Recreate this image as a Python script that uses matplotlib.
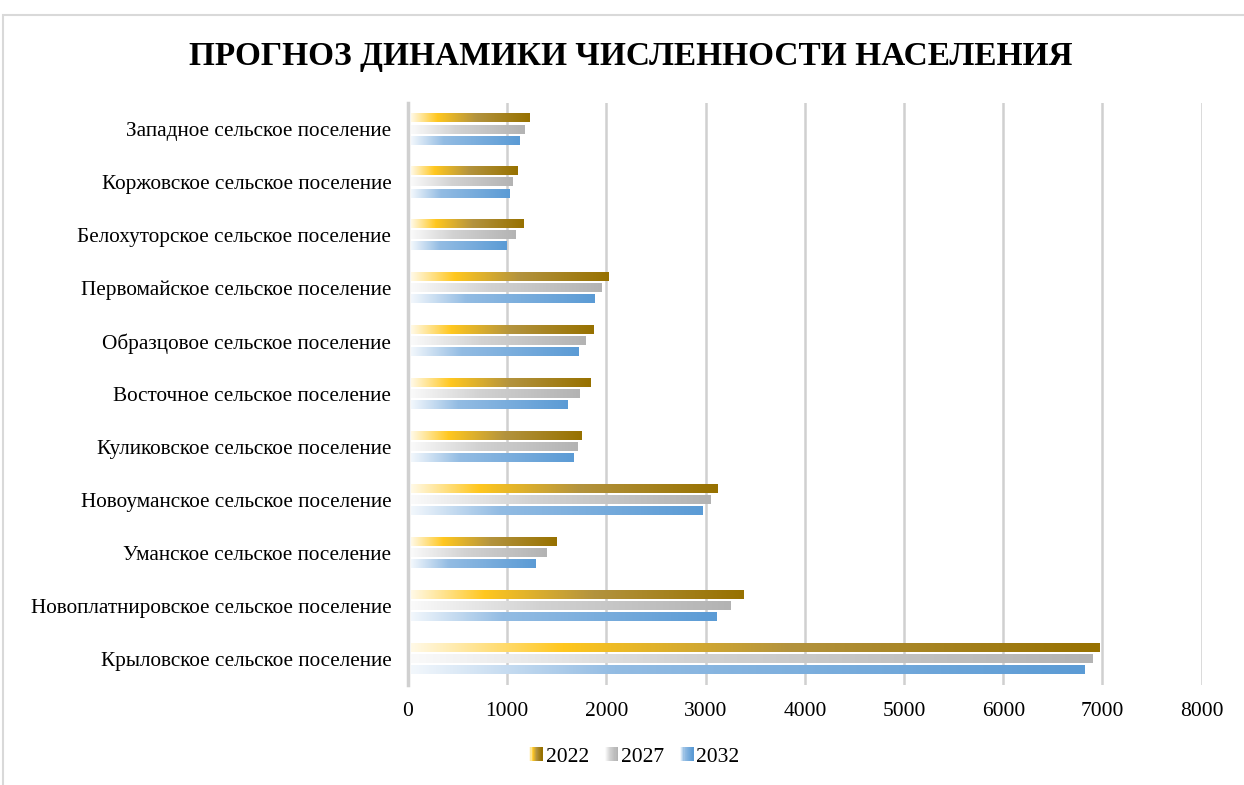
import matplotlib.pyplot as plt
import numpy as np
from matplotlib.colors import LinearSegmentedColormap
from matplotlib.legend_handler import HandlerBase
from matplotlib.patches import Rectangle

plt.rcParams['font.family'] = ['Liberation Serif', 'DejaVu Serif']

# Поселения (снизу вверх, как на оси)
poseleniya = [
    'Крыловское сельское поселение',
    'Новоплатнировское сельское поселение',
    'Уманское сельское поселение',
    'Новоуманское сельское поселение',
    'Куликовское сельское поселение',
    'Восточное сельское поселение',
    'Образцовое сельское поселение',
    'Первомайское сельское поселение',
    'Белохуторское сельское поселение',
    'Коржовское сельское поселение',
    'Западное сельское поселение',
]
god_2022 = [6965, 3380, 1495, 3110, 1745, 1835, 1865, 2020, 1155, 1095, 1215]
god_2027 = [6890, 3245, 1390, 3045, 1705, 1725, 1785, 1950, 1075, 1050, 1165]
god_2032 = [6810, 3105, 1280, 2960, 1665, 1605, 1710, 1870, 985, 1015, 1115]
gody = ['2022', '2027', '2032']
ticks_x = [0, 1000, 2000, 3000, 4000, 5000, 6000, 7000, 8000]

cmaps = [
    LinearSegmentedColormap.from_list('g22', [(0, '#FFF9E6'), (0.22, '#FFC71F'), (0.55, '#B3933E'), (1, '#977100')]),
    LinearSegmentedColormap.from_list('g27', [(0, '#FAFAFA'), (0.4, '#D2D2D2'), (1, '#B3B3B3')]),
    LinearSegmentedColormap.from_list('g32', [(0, '#F2F7FC'), (0.3, '#93BCE3'), (1, '#5B9BD5')]),
]

fig = plt.figure(figsize=(12.44, 7.85), dpi=100)
ax = fig.add_axes([0.328, 0.1274, 0.638, 0.7414])

# рамка вокруг диаграммы
fig.patches.append(Rectangle((3 / 1244, -0.1), 1.2, 1 - 15 / 785 + 0.1, transform=fig.transFigure,
                             fill=False, edgecolor='#D9D9D9', linewidth=1.5))

y = np.arange(len(poseleniya))
shag = 0.21
h = 0.155
grad = np.linspace(0, 1, 256).reshape(1, -1)
for i, (vals, cm) in enumerate(zip([god_2022, god_2027, god_2032], cmaps)):
    bars = ax.barh(y + shag * (1 - i), vals, height=h, color='none', edgecolor='none', zorder=3)
    for b in bars:
        x0, y0 = b.get_x(), b.get_y()
        ax.imshow(grad, cmap=cm, aspect='auto', interpolation='bilinear',
                  extent=[x0 + 25, x0 + b.get_width(), y0, y0 + b.get_height()], zorder=3)

ax.set_xlim(0, 8000)
ax.set_ylim(-0.5, len(poseleniya) - 0.5)
ax.set_xticks(ticks_x)
ax.set_yticks(y)
ax.set_yticklabels(poseleniya, fontsize=15.3)
ax.tick_params(axis='x', labelsize=15.5, length=0, pad=12)
ax.tick_params(axis='y', length=0, pad=12)
ax.grid(axis='x', color='#D0D0D0', linewidth=1.8, zorder=0)
for s in ['top', 'right', 'bottom']:
    ax.spines[s].set_visible(False)
ax.spines['left'].set_color('#D0D0D0')
ax.spines['left'].set_linewidth(2.5)

fig.text(0.507, 1 - 56 / 785, 'ПРОГНОЗ ДИНАМИКИ ЧИСЛЕННОСТИ НАСЕЛЕНИЯ',
         ha='center', va='center', fontsize=24, fontweight='bold')


class HandlerGrad(HandlerBase):
    def create_artists(self, legend, orig_handle, xdescent, ydescent, width, height, fontsize, trans):
        cm = orig_handle.cmap
        n = 12
        arts = []
        for k in range(n):
            r = Rectangle((-xdescent + width * k / n, -ydescent), width / n + 0.3, height,
                          facecolor=cm(k / (n - 1)), edgecolor='none', transform=trans)
            arts.append(r)
        return arts


handles = []
for cm in cmaps:
    r = Rectangle((0, 0), 1, 1)
    r.cmap = cm
    handles.append(r)
fig.legend(handles, gody, handler_map={Rectangle: HandlerGrad()}, loc='center',
           bbox_to_anchor=(0.51, 1 - 757 / 785), ncol=3, frameon=False, fontsize=15.5,
           handlelength=0.6, handleheight=0.6, handletextpad=0.15, columnspacing=0.75)

fig.savefig('out.png', dpi=100)
